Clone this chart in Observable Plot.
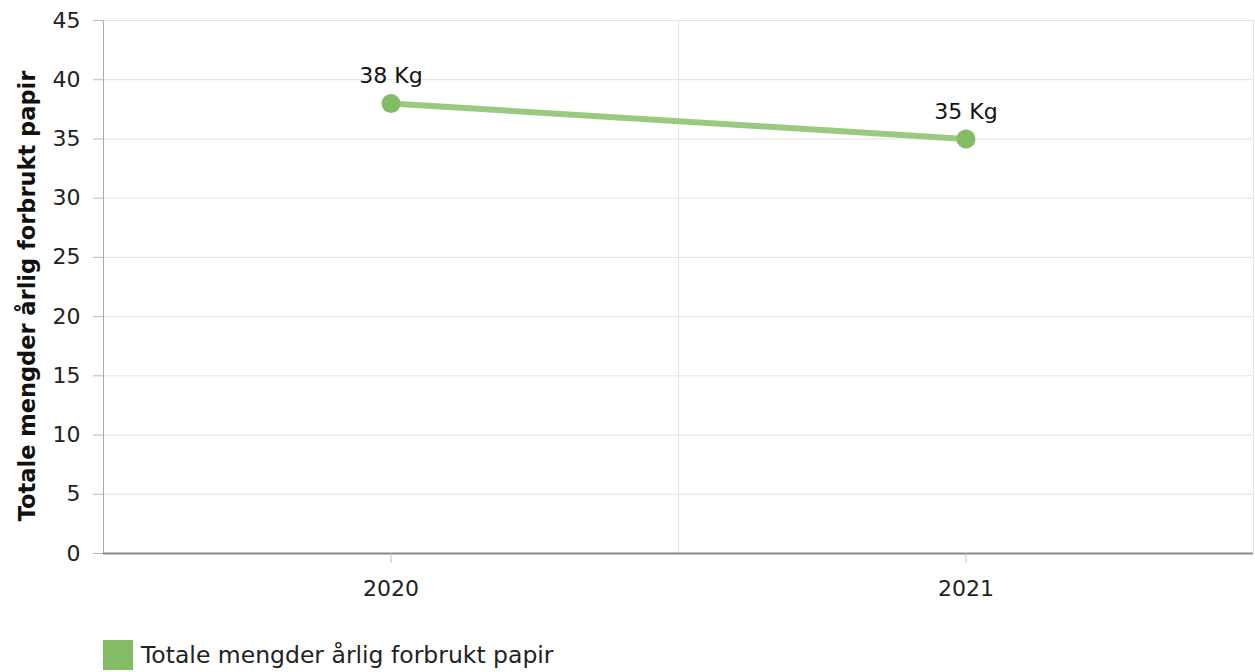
<!DOCTYPE html>
<html>
<head>
<meta charset="utf-8">
<script src="https://cdn.jsdelivr.net/npm/d3@7"></script>
<script src="https://cdn.jsdelivr.net/npm/@observablehq/plot@0.6"></script>
<style>
  body { margin: 0; background: #fff; font-family: "DejaVu Sans", Verdana, sans-serif; }
  #legend { display: flex; align-items: center; margin-left: 103px; margin-top: 10px; font-size: 23.5px; color: #222; height: 30px; }
  #legend .sw { width: 30px; height: 30px; background: #84bb65; margin-right: 8px; }
</style>
</head>
<body>
<div id="chart"></div>
<div id="legend"><div class="sw"></div><span id="legtext"></span></div>
<script>
const years = ["2020", "2021"];
const values = [38, 35];
const labels = ["38 Kg", "35 Kg"];
const seriesName = "Totale mengder årlig forbrukt papir";
const yTicks = [0, 5, 10, 15, 20, 25, 30, 35, 40, 45];

const data = years.map((y, i) => ({ i, year: y, value: values[i], label: labels[i] }));
const bandEdges = years.map((_, i) => i + 0.5);

const chart = Plot.plot({
  width: 1255,
  height: 630,
  marginLeft: 103,
  marginRight: 2,
  marginTop: 20,
  marginBottom: 77,
  style: { fontFamily: "DejaVu Sans, Verdana, sans-serif", color: "#222", background: "#fff" },
  x: { domain: [-0.5, years.length - 0.5], axis: null },
  y: { domain: [0, 45], axis: null },
  marks: [
    Plot.ruleY(yTicks.filter(d => d > 0), { stroke: "#e3e3e3", strokeWidth: 1 }),
    Plot.ruleX(bandEdges, { stroke: "#e3e3e3", strokeWidth: 1 }),
    Plot.axisY({ ticks: yTicks, tickSize: 10, tickPadding: 13, fontSize: 22, stroke: "#bbb", label: null }),
    Plot.ruleX([-0.5], { stroke: "#aaa", strokeWidth: 1 }),
    Plot.ruleY([0], { stroke: "#888", strokeWidth: 2 }),
    Plot.axisX({ ticks: years.map((_, i) => i), tickFormat: i => years[i], tickSize: 10, tickPadding: 17, fontSize: 22, stroke: "#bbb", label: null }),
    Plot.text([seriesName], { frameAnchor: "left", textAnchor: "middle", dx: -76, dy: 9, rotate: -90, fontSize: 22.5, fontWeight: "bold", fill: "#111", text: d => d }),
    Plot.line(data, { x: "i", y: "value", stroke: "#9cc982", strokeWidth: 6 }),
    Plot.dot(data, { x: "i", y: "value", r: 9.5, fill: "#84bb65", stroke: "none" }),
    Plot.text(data, { x: "i", y: "value", text: "label", dy: -27, fontSize: 22, fill: "#111" })
  ]
});
document.getElementById("chart").appendChild(chart);
document.getElementById("legtext").textContent = seriesName;
</script>
</body>
</html>
